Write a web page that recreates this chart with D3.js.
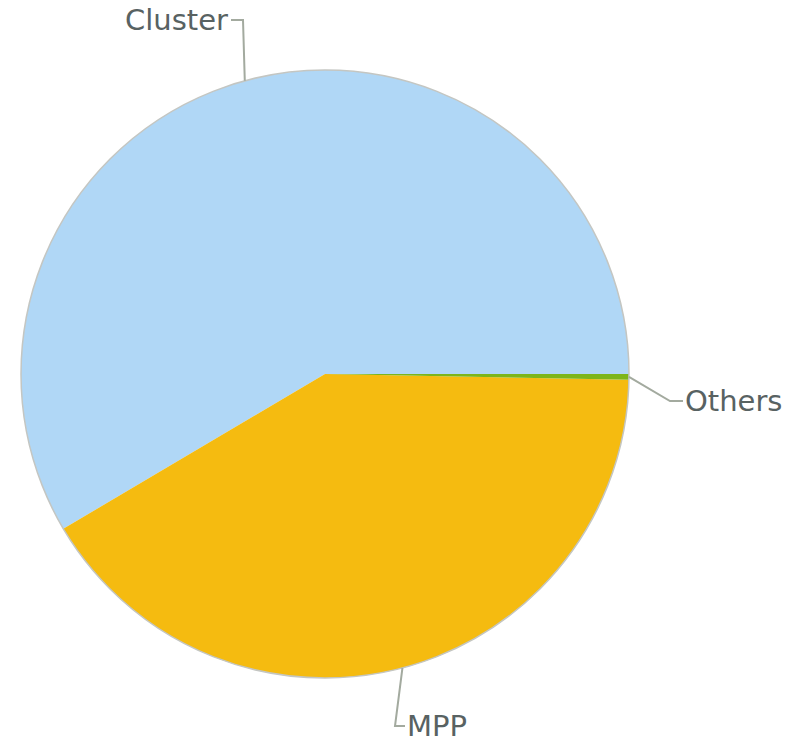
<!DOCTYPE html>
<html>
<head>
<meta charset="utf-8">
<script src="https://cdn.jsdelivr.net/npm/d3@7/dist/d3.min.js"></script>
<style>
  html, body { margin: 0; padding: 0; background: #ffffff; }
  svg { display: block; }
</style>
</head>
<body>
<svg id="chart" width="802" height="742"></svg>
<script>
// Share of systems by architecture (percent)
const categories = ["Cluster", "MPP", "Others"];
const shares = [58.5, 41.2, 0.3];
const colors = ["#b0d7f6", "#f5bb10", "#7db51a"];

// Label placement: elbow point of each leader line and where its short tail ends
const labelLayout = {
  Cluster: { elbow: [243, 20], tail: [231, 20], anchor: "end", dx: -3 },
  MPP:     { elbow: [395, 726], tail: [405, 726], anchor: "start", dx: 2 },
  Others:  { elbow: [670, 401], tail: [683, 401], anchor: "start", dx: 2 }
};

const cx = 325, cy = 374, radius = 304;

const svg = d3.select("#chart");
const g = svg.append("g").attr("transform", `translate(${cx},${cy})`);

const data = categories.map((c, i) => ({ name: c, value: shares[i], color: colors[i] }));

// Slices run counter-clockwise starting at 3 o'clock
const pie = d3.pie()
  .value(d => d.value)
  .sort(null)
  .startAngle(Math.PI / 2)
  .endAngle(Math.PI / 2 - 2 * Math.PI);

const arc = d3.arc().innerRadius(0).outerRadius(radius);
const arcs = pie(data);

g.selectAll("path.slice")
  .data(arcs)
  .join("path")
  .attr("class", "slice")
  .attr("d", arc)
  .attr("fill", d => d.data.color);

// thin outline around the pie
g.append("circle")
  .attr("r", radius)
  .attr("fill", "none")
  .attr("stroke", "#c4c6c2")
  .attr("stroke-width", 1.5);

// leader lines and labels
const labels = svg.append("g");
arcs.forEach(a => {
  const mid = (a.startAngle + a.endAngle) / 2;
  const p0 = [cx + radius * Math.sin(mid), cy - radius * Math.cos(mid)];
  const lay = labelLayout[a.data.name];
  labels.append("polyline")
    .attr("points", [p0, lay.elbow, lay.tail].map(p => p.join(",")).join(" "))
    .attr("fill", "none")
    .attr("stroke", "#a3aa9f")
    .attr("stroke-width", 2);
  labels.append("text")
    .attr("x", lay.tail[0] + lay.dx)
    .attr("y", lay.tail[1])
    .attr("dy", "0.36em")
    .attr("text-anchor", lay.anchor)
    .attr("font-family", "DejaVu Sans, Verdana, sans-serif")
    .attr("font-size", 29)
    .attr("fill", "#586262")
    .text(a.data.name);
});
</script>
</body>
</html>
